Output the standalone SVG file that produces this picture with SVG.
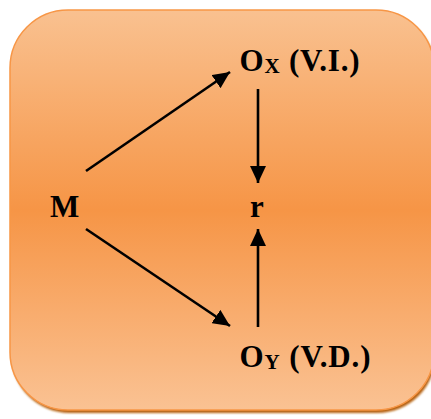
<svg xmlns="http://www.w3.org/2000/svg" width="431" height="419" viewBox="0 0 431 419">
  <defs>
    <linearGradient id="bg" x1="0" y1="0" x2="0" y2="1">
      <stop offset="0" stop-color="#F9C190"/>
      <stop offset="0.5" stop-color="#F69546"/>
      <stop offset="1" stop-color="#FAC293"/>
    </linearGradient>
    <filter id="soft" x="-5%" y="-5%" width="110%" height="110%">
      <feGaussianBlur stdDeviation="0.8"/>
    </filter>
    <marker id="ah" markerUnits="userSpaceOnUse" markerWidth="18" markerHeight="16" refX="17" refY="8" orient="auto">
      <path d="M0,0 L17,8 L0,16 Z" fill="#000"/>
    </marker>
    <style>
      .lbl { font-family: "Liberation Serif", "Times New Roman", serif; font-weight: bold; font-size: 31px; fill: #000; }
      .sub { font-size: 21px; }
      .con { stroke: #000; stroke-width: 2.6; fill: none; marker-end: url(#ah); }
    </style>
  </defs>

  <rect x="0" y="0" width="431" height="419" fill="#fff"/>
  <g id="background">
    <rect x="11.5" y="13" width="424" height="400" rx="58" ry="58" fill="#B5600F" filter="url(#soft)"/>
    <rect x="10" y="10" width="424" height="400" rx="58" ry="58" fill="url(#bg)" stroke="#F79646" stroke-width="1.5"/>
  </g>

  <g id="connectors">
    <line class="con" x1="86" y1="171" x2="230" y2="72"/>
    <line class="con" x1="86" y1="229" x2="230" y2="326"/>
    <line class="con" x1="258" y1="89" x2="258" y2="183"/>
    <line class="con" x1="258" y1="327" x2="258" y2="229"/>
  </g>

  <g id="node-M">
    <text class="lbl" x="50" y="217">M</text>
  </g>
  <g id="node-r">
    <text class="lbl" x="257" y="217" text-anchor="middle">r</text>
  </g>
  <g id="node-Ox">
    <text class="lbl" x="239.5" y="71" textLength="120" lengthAdjust="spacing">O<tspan class="sub" dy="2">X</tspan><tspan dy="-2"> (V.I.)</tspan></text>
  </g>
  <g id="node-Oy">
    <text class="lbl" x="239.5" y="367" textLength="131" lengthAdjust="spacing">O<tspan class="sub" dy="2">Y</tspan><tspan dy="-2"> (V.D.)</tspan></text>
  </g>
</svg>
